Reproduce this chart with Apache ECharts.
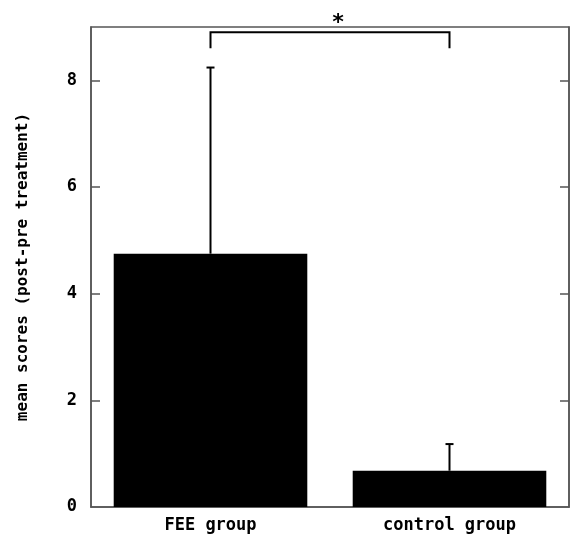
<!DOCTYPE html>
<html><head><meta charset="utf-8">
<script src="https://cdn.jsdelivr.net/npm/echarts@6/dist/echarts.min.js"></script>
<style>html,body{margin:0;padding:0;background:#fff}#c{width:573px;height:536px}</style>
</head><body><div id="c"></div>
<script>
const categories = ['FEE group', 'control group'];
const means = [4.75, 0.68];
const upperErr = [8.24, 1.18];
const yTicks = [0, 2, 4, 6, 8];
const bracketFrom = 0, bracketTo = 1;
const bracketTop = 8.9, bracketBottom = 8.6, starLevel = 9.18;
const sigMark = '*';

const font = '"DejaVu Sans Mono", monospace';
const axisColor = '#555';
const chart = echarts.init(document.getElementById('c'));
chart.setOption({
  animation: false,
  grid: {left: 91, right: 4, top: 27, bottom: 29, show: true, borderColor: axisColor, borderWidth: 1.5},
  xAxis: {type: 'category', data: categories,
    axisLine: {lineStyle: {color: axisColor, width: 1.5}}, axisTick: {show: false},
    axisLabel: {color: '#000', fontFamily: font, fontWeight: 'bold', fontSize: 17, margin: 10}},
  yAxis: [
    {type: 'value', min: 0, max: 9, interval: 1,
     name: 'mean scores (post-pre treatment)', nameLocation: 'middle', nameGap: 60, nameRotate: 90,
     nameTextStyle: {color: '#000', fontFamily: font, fontWeight: 'bold', fontSize: 16},
     axisLine: {show: true, lineStyle: {color: axisColor, width: 1.5}},
     axisTick: {show: true, inside: true, length: 9, customValues: yTicks.slice(1), lineStyle: {color: axisColor, width: 1.5}},
     axisLabel: {customValues: yTicks, color: '#000', fontFamily: font, fontWeight: 'bold', fontSize: 17, margin: 14},
     splitLine: {show: false}},
    {type: 'value', min: 0, max: 9, interval: 1, position: 'right',
     axisLine: {show: true, lineStyle: {color: axisColor, width: 1.5}},
     axisTick: {show: true, inside: true, length: 9, customValues: yTicks.slice(1), lineStyle: {color: axisColor, width: 1.5}},
     axisLabel: {show: false}, splitLine: {show: false}}
  ],
  series: [
    {type: 'bar', data: means, barWidth: '81%', itemStyle: {color: '#000'}, z: 2},
    {type: 'custom', z: 3, data: categories.map((c, i) => [i, means[i], upperErr[i]]),
     renderItem: function (params, api) {
       const x = api.value(0);
       const p0 = api.coord([x, api.value(1)]);
       const p1 = api.coord([x, api.value(2)]);
       const w = 4;
       return {type: 'group', children: [
         {type: 'line', shape: {x1: p0[0], y1: p0[1], x2: p1[0], y2: p1[1]}, style: {stroke: '#000', lineWidth: 2}},
         {type: 'line', shape: {x1: p1[0] - w, y1: p1[1], x2: p1[0] + w, y2: p1[1]}, style: {stroke: '#000', lineWidth: 2}}
       ]};
     }},
    {type: 'custom', z: 4, clip: false, data: [[bracketFrom, bracketTo, bracketTop, bracketBottom, starLevel]],
     renderItem: function (params, api) {
       const a = api.coord([api.value(0), api.value(2)]);
       const b = api.coord([api.value(1), api.value(2)]);
       const yb = api.coord([api.value(0), api.value(3)])[1];
       const ys = api.coord([api.value(0), api.value(4)])[1];
       return {type: 'group', children: [
         {type: 'polyline', shape: {points: [[a[0], yb], [a[0], a[1]], [b[0], b[1]], [b[0], yb]]}, style: {stroke: '#000', lineWidth: 2, fill: null}},
         {type: 'text', x: (a[0] + b[0]) / 2 + 8, y: ys + 6, style: {text: sigMark, fill: '#000', font: 'bold 22px ' + font, align: 'center', verticalAlign: 'middle'}}
       ]};
     }}
  ]
});
</script></body></html>
